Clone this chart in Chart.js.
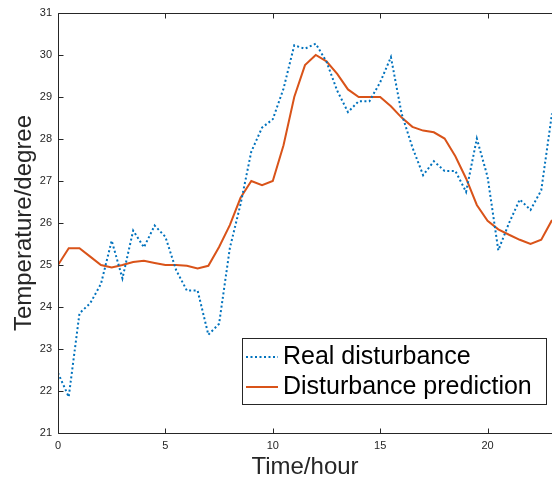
<!DOCTYPE html>
<html>
<head>
<meta charset="utf-8">
<script src="https://cdn.jsdelivr.net/npm/chart.js@4/dist/chart.umd.min.js"></script>
<style>
  body { margin: 0; background: #fff; }
  canvas { display: block; }
</style>
</head>
<body>
<canvas id="disturbance_chart" width="553" height="482"></canvas>
<script>

///////////   DATA  /////////////////

const hours = [0, 0.5, 1, 1.5, 2, 2.5, 3, 3.5, 4, 4.5, 5, 5.5, 6, 6.5, 7, 7.5, 8, 8.5, 9, 9.5,
  10, 10.5, 11, 11.5, 12, 12.5, 13, 13.5, 14, 14.5, 15, 15.5, 16, 16.5, 17, 17.5, 18, 18.5,
  19, 19.5, 20, 20.5, 21, 21.5, 22, 22.5, 23];

const real_disturbance = [22.43, 21.86, 23.85, 24.09, 24.55, 25.58, 24.68, 25.82, 25.42, 25.94,
  25.67, 24.88, 24.39, 24.39, 23.34, 23.6, 25.4, 26.45, 27.7, 28.27, 28.47, 29.2, 30.23, 30.15,
  30.27, 29.84, 29.15, 28.64, 28.9, 28.9, 29.35, 29.95, 28.6, 27.8, 27.14, 27.47, 27.24, 27.24,
  26.74, 28.01, 27.1, 25.35, 26.0, 26.56, 26.31, 26.78, 28.61];

const disturbance_prediction = [25.0, 25.4, 25.4, 25.2, 25.0, 24.94, 25.0, 25.07, 25.1, 25.05,
  25.0, 25.0, 24.98, 24.92, 24.98, 25.43, 25.95, 26.6, 27.0, 26.9, 27.0, 27.85, 29.0, 29.76,
  30.0, 29.85, 29.55, 29.18, 29.0, 29.0, 29.0, 28.78, 28.51, 28.29, 28.2, 28.16, 28.01, 27.59,
  27.06, 26.43, 26.05, 25.85, 25.72, 25.6, 25.5, 25.6, 26.07];

const series_names = ["Real disturbance", "Disturbance prediction"];

const x_ticks = [0, 5, 10, 15, 20];
const y_ticks = [21, 22, 23, 24, 25, 26, 27, 28, 29, 30, 31];

const FONT = "'Liberation Sans', Arial, Helvetica, sans-serif";
const AXIS_COLOR = "#262626";

function toPoints(values) {
  return values.map((v, i) => ({ x: hours[i], y: v }));
}

///////////   FRAME + INWARD TICKS  /////////////////

const frame_plugin = {
  id: "frame",
  afterDatasetsDraw(chart) {
    const { ctx, chartArea: a, scales } = chart;
    const tick = 5;
    ctx.save();
    ctx.strokeStyle = AXIS_COLOR;
    ctx.lineWidth = 1;
    ctx.beginPath();
    const L = Math.round(a.left) + 0.5, T = Math.round(a.top) + 0.5, B = Math.round(a.bottom) + 0.5;
    ctx.moveTo(a.right, T); ctx.lineTo(L, T); ctx.lineTo(L, B); ctx.lineTo(a.right, B);

    x_ticks.forEach(v => {
      const px = Math.round(scales.x.getPixelForValue(v)) + 0.5;
      ctx.moveTo(px, B); ctx.lineTo(px, B - tick);
      ctx.moveTo(px, T); ctx.lineTo(px, T + tick);
    });
    y_ticks.forEach(v => {
      const py = Math.round(scales.y.getPixelForValue(v)) + 0.5;
      ctx.moveTo(L, py); ctx.lineTo(L + tick, py);
    });
    ctx.stroke();
    ctx.restore();
  }
};

///////////   LEGEND BOX  /////////////////

const legend_box = {
  id: "legendBox",
  afterDraw(chart) {
    const ctx = chart.ctx;
    const box = { left: 242, top: 338.5, width: 304, height: 66 };
    ctx.save();
    ctx.fillStyle = "#fff";
    ctx.fillRect(box.left, box.top, box.width, box.height);
    ctx.strokeStyle = AXIS_COLOR;
    ctx.lineWidth = 1;
    ctx.strokeRect(box.left + 0.5, box.top, box.width, box.height);

    ctx.font = "25px " + FONT;
    ctx.textBaseline = "middle";
    ctx.fillStyle = "#000";
    chart.data.datasets.forEach((ds, i) => {
      const rowY = box.top + 18.5 + i * 30;
      ctx.beginPath();
      ctx.strokeStyle = ds.borderColor;
      ctx.lineWidth = ds.borderWidth;
      ctx.setLineDash(ds.borderDash || []);
      ctx.moveTo(box.left + 4, rowY);
      ctx.lineTo(box.left + 36, rowY);
      ctx.stroke();
      ctx.setLineDash([]);
      ctx.fillText(ds.label, box.left + 41, rowY);
    });
    ctx.restore();
  }
};

///////////   CHART  /////////////////

new Chart(document.querySelector("#disturbance_chart"), {
  type: "line",
  data: {
    datasets: [
      {
        label: series_names[0],
        data: toPoints(real_disturbance),
        borderColor: "#0072BD",
        borderWidth: 2,
        borderDash: [2, 2.5],
        pointRadius: 0,
        tension: 0
      },
      {
        label: series_names[1],
        data: toPoints(disturbance_prediction),
        borderColor: "#D95319",
        borderWidth: 2,
        pointRadius: 0,
        tension: 0
      }
    ]
  },
  options: {
    responsive: false,
    animation: false,
    layout: { padding: { top: 13, right: 1, left: 0, bottom: 0 } },
    plugins: {
      legend: { display: false },
      tooltip: { enabled: false }
    },
    scales: {
      x: {
        type: "linear",
        min: 0,
        max: 23,
        afterBuildTicks: scale => { scale.ticks = x_ticks.map(v => ({ value: v })); },
        afterFit: scale => { scale.height = 49; },
        grid: { display: false, drawTicks: false },
        border: { display: false },
        ticks: {
          color: AXIS_COLOR,
          font: { family: FONT, size: 11 },
          padding: 6,
          maxRotation: 0
        },
        title: {
          display: true,
          text: "Time/hour",
          color: AXIS_COLOR,
          font: { family: FONT, size: 24, lineHeight: 1 },
          padding: { top: 0, bottom: 3 }
        }
      },
      y: {
        min: 21,
        max: 31,
        afterBuildTicks: scale => { scale.ticks = y_ticks.map(v => ({ value: v })); },
        afterFit: scale => { scale.width = 58; },
        grid: { display: false, drawTicks: false },
        border: { display: false },
        ticks: {
          color: AXIS_COLOR,
          font: { family: FONT, size: 11 },
          padding: 6
        },
        title: {
          display: true,
          text: "Temperature/degree",
          color: AXIS_COLOR,
          font: { family: FONT, size: 24, lineHeight: 1 },
          padding: { top: 12, bottom: 0 }
        }
      }
    }
  },
  plugins: [frame_plugin, legend_box]
});

</script>
</body>
</html>
